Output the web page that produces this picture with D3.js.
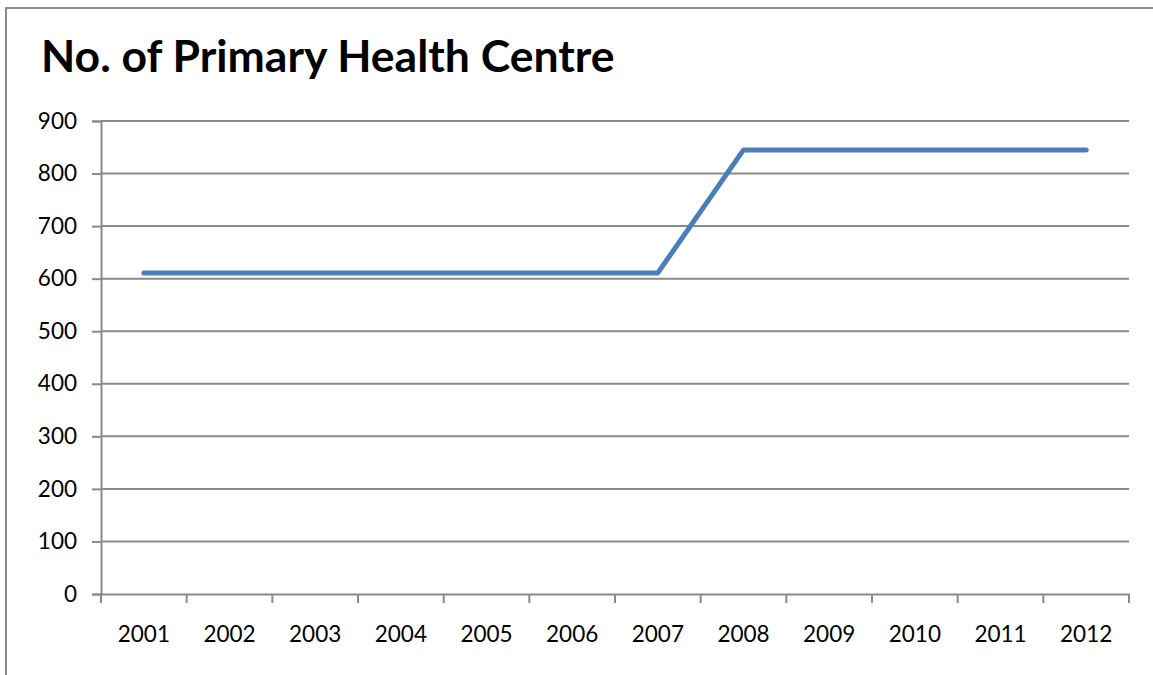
<!DOCTYPE html>
<html>
<head>
<meta charset="utf-8">
<script src="https://cdn.jsdelivr.net/npm/d3@7"></script>
<style>
    body { margin: 0; background: #fff; }
    svg { display: block; font-family: Lato, "Open Sans", sans-serif; }
</style>
</head>
<body>
<div id="chart"></div>
<script>
// data
const years = ['2001', '2002', '2003', '2004', '2005', '2006', '2007', '2008', '2009', '2010', '2011', '2012'];
const centres = [611, 611, 611, 611, 611, 611, 611, 845, 845, 845, 845, 845];
const yTicks = [0, 100, 200, 300, 400, 500, 600, 700, 800, 900];

const width = 1153, height = 675;
const margin = {top: 121, right: 24, bottom: 81, left: 101};

let svg = d3.select('#chart').append('svg')
    .attr('width', width)
    .attr('height', height);

// chart frame (only left and top edges show in the crop)
svg.append('rect')
    .attr('x', 6)
    .attr('y', 8)
    .attr('width', width + 20)
    .attr('height', height + 20)
    .attr('fill', 'none')
    .attr('stroke', '#8a8a8a')
    .attr('stroke-width', 2);

svg.append('text')
    .attr('x', 41)
    .attr('y', 72)
    .style('font-size', '44.5px')
    .style('font-weight', 'bold')
    .text('No. of Primary Health Centre');

let x = d3.scaleBand()
    .domain(years)
    .range([margin.left, width - margin.right]);

let y = d3.scaleLinear()
    .domain([0, 900])
    .range([height - margin.bottom, margin.top]);

// gridlines
svg.append('g')
    .selectAll('line')
    .data(yTicks.filter(function(d) {return d > 0}))
    .enter()
    .append('line')
    .attr('x1', margin.left)
    .attr('x2', width - margin.right)
    .attr('y1', function(d) {return y(d)})
    .attr('y2', function(d) {return y(d)})
    .attr('stroke', '#8a8a8a')
    .attr('stroke-width', 2);

let yAxis = svg.append('g')
    .attr('transform', 'translate(' + margin.left + ',0)')
    .call(d3.axisLeft(y).tickValues(yTicks).tickSize(9).tickPadding(15));

let xAxis = svg.append('g')
    .attr('transform', 'translate(0,' + (height - margin.bottom) + ')')
    .call(d3.axisBottom(x).tickSize(0).tickPadding(32));

// category boundary ticks
xAxis.selectAll('.bound')
    .data(years.concat(['end']))
    .enter()
    .append('line')
    .attr('class', 'bound')
    .attr('x1', function(d, i) {return margin.left + i * x.bandwidth()})
    .attr('x2', function(d, i) {return margin.left + i * x.bandwidth()})
    .attr('y1', 0)
    .attr('y2', 9)
    .attr('stroke', '#8a8a8a')
    .attr('stroke-width', 2);

[yAxis, xAxis].forEach(function(ax) {
    ax.select('.domain').attr('stroke', '#8a8a8a').attr('stroke-width', 2);
    ax.selectAll('.tick line').attr('stroke', '#8a8a8a').attr('stroke-width', 2);
    ax.selectAll('.tick text')
        .attr('fill', '#000')
        .style('font-size', '22.5px')
        .style('font-family', 'Lato, sans-serif');
});

let line = d3.line()
    .x(function(d, i) {return x(years[i]) + x.bandwidth() / 2})
    .y(function(d) {return y(d)});

svg.append('path')
    .datum(centres)
    .attr('d', line)
    .attr('fill', 'none')
    .attr('stroke', '#4a7ebb')
    .attr('stroke-width', 5)
    .attr('stroke-linejoin', 'round')
    .attr('stroke-linecap', 'round');
</script>
</body>
</html>
